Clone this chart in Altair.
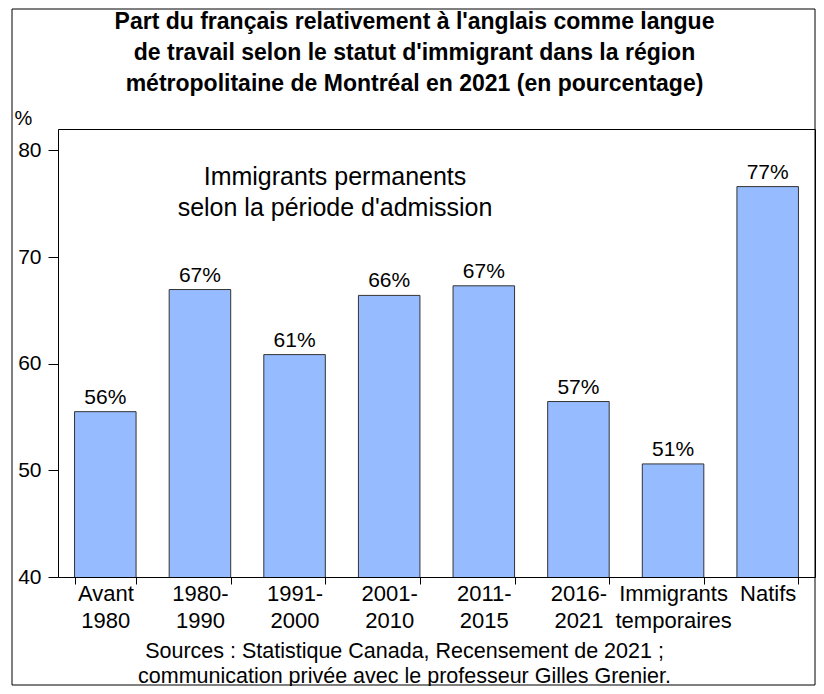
import altair as alt
import pandas as pd

categories = ["Avant|1980", "1980-|1990", "1991-|2000", "2001-|2010", "2011-|2015",
              "2016-|2021", "Immigrants|temporaires", "Natifs"]
values = [55.5, 66.95, 60.85, 66.4, 67.3, 56.45, 50.6, 76.6]
labels = ["56%", "67%", "61%", "66%", "67%", "57%", "51%", "77%"]
y_ticks = [40, 50, 60, 70, 80]

title_lines = ["Part du français relativement à l'anglais comme langue",
               "de travail selon le statut d'immigrant dans la région",
               "métropolitaine de Montréal en 2021 (en pourcentage)"]
note_lines = ["Immigrants permanents", "selon la période d'admission"]
source_lines = ["Sources : Statistique Canada, Recensement de 2021 ;",
                "communication privée avec le professeur Gilles Grenier."]

FONT = "Liberation Sans"
W, H = 757, 448

df = pd.DataFrame({"cat": categories, "val": values, "lab": labels})
one = pd.DataFrame({"k": [0]})

x_enc = alt.X("cat:N", sort=categories,
              scale=alt.Scale(paddingInner=0.35, paddingOuter=0.175),
              axis=alt.Axis(title=source_lines, labelExpr="split(datum.label, '|')",
                            labelAngle=0, labelFontSize=22, labelLineHeight=27,
                            labelBaseline="top", labelPadding=-1, labelFont=FONT,
                            labelColor="black", tickBand="extent", tickSize=7,
                            tickColor="black", domain=False,
                            titleFontSize=21.5, titleFont=FONT, titleFontWeight="normal",
                            titleColor="black", titleLineHeight=25, titleX=346,
                            titleY=63, titleAlign="center", titleBaseline="top"))
y_enc = alt.Y("val:Q", scale=alt.Scale(domain=[40, 82], nice=False, zero=False),
              axis=alt.Axis(values=y_ticks, title="%", titleAngle=0, titleX=-44,
                            titleY=-11, titleAlign="left", titleBaseline="middle",
                            titleFontSize=20, titleFont=FONT, titleFontWeight="normal",
                            titleColor="black", labelFontSize=21, labelFont=FONT,
                            labelColor="black", labelAlign="right", labelPadding=7,
                            tickSize=10, tickColor="black", grid=False, domain=False))

bars = alt.Chart(df).mark_bar(color="#96BBFF", stroke="#333333", strokeWidth=1,
                              clip=True).encode(x=x_enc, y=y_enc)

texts = alt.Chart(df).mark_text(baseline="bottom", dy=-4, fontSize=21, font=FONT,
                                color="black").encode(
    x=alt.X("cat:N", sort=categories), y=alt.Y("val:Q"), text="lab:N")

note = alt.Chart(one).mark_text(text=note_lines, fontSize=25, font=FONT, color="black",
                                lineHeight=31, baseline="top", align="center").encode(
    x=alt.value(277), y=alt.value(35.5))

border = alt.Chart(one).mark_rect(fillOpacity=0, stroke="black", strokeWidth=1).encode(
    x=alt.value(-46), x2=alt.value(W), y=alt.value(-120), y2=alt.value(H + 108))

chart = alt.layer(bars, texts, note, border).properties(
    width=W, height=H,
    padding={"left": 50, "top": 121, "right": 1, "bottom": 109},
    autosize=alt.AutoSizeParams(type="none"),
    title=alt.TitleParams(text=title_lines, font=FONT, fontSize=23, fontWeight="bold",
                          color="black", lineHeight=31, anchor="middle", dx=-22,
                          offset=-87, frame="group"),
).configure(background="white").configure_view(stroke="black", strokeWidth=1)

chart.save("out.html", embed_options={"renderer": "svg", "actions": False})
